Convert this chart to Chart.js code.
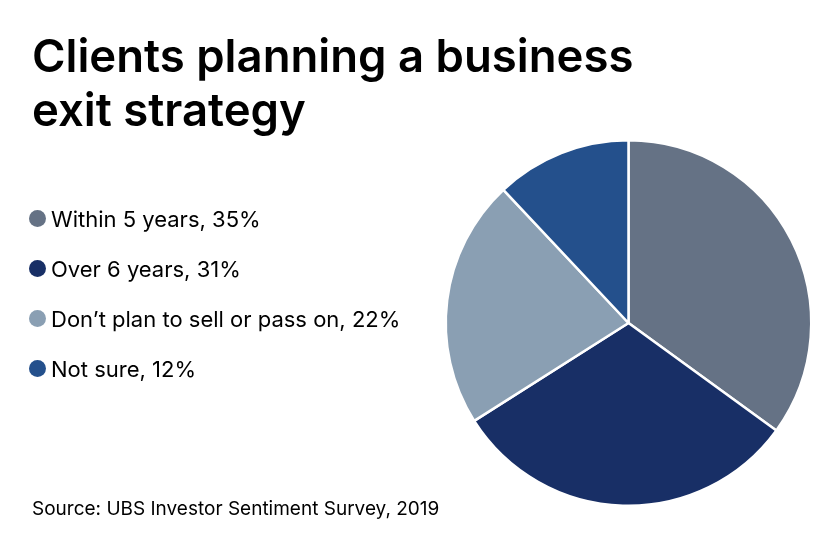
<!DOCTYPE html>
<html><head><meta charset="utf-8">
<script src="https://cdn.jsdelivr.net/npm/chart.js@4"></script>
<style>
html,body{margin:0;padding:0;background:#fff;overflow:hidden}
#wrap{position:relative;width:840px;height:547px;font-family:Inter,sans-serif;color:#000}
#wrap canvas{position:absolute;left:0;top:0}
.t{position:absolute;white-space:nowrap}
#title{left:32px;top:29px;font-size:45.5px;line-height:54px;font-weight:600;}
#source{left:32px;top:497px;font-size:19px;line-height:24px}
.row{position:absolute;left:29px;height:24px;font-size:22px;line-height:24px;white-space:nowrap}
.dot{position:absolute;left:0;top:3px;width:17px;height:17px;border-radius:50%}
.lab{position:absolute;left:22px;top:0}
</style></head><body>
<div id="wrap">
<canvas id="c" width="840" height="547"></canvas>
<div id="title" class="t">Clients planning a business<br>exit strategy</div>
<div id="legend"></div>
<div id="source" class="t">Source: UBS Investor Sentiment Survey, 2019</div>
</div>
<script>
const categories=["Within 5 years","Over 6 years","Don’t plan to sell or pass on","Not sure"];
const values=[35,31,22,12];
const colors=["#657285","#182f66","#8a9fb3","#24508c"];
const rowTops=[207,257,307,357];
const lg=document.getElementById('legend');
categories.forEach((c,i)=>{
  const r=document.createElement('div');r.className='row';r.style.top=rowTops[i]+'px';
  r.innerHTML='<span class="dot" style="background:'+colors[i]+'"></span><span class="lab"></span>';
  r.querySelector('.lab').textContent=c+', '+values[i]+'%';
  lg.appendChild(r);
});
new Chart(document.getElementById('c'),{
  type:'pie',
  data:{labels:categories,datasets:[{data:values,backgroundColor:colors,borderColor:'#ffffff',borderWidth:2.5}]},
  options:{responsive:false,animation:false,devicePixelRatio:1,
    layout:{padding:{left:444.5,top:138.5,right:27.5,bottom:39.5}},
    plugins:{legend:{display:false},tooltip:{enabled:false},title:{display:false}}}
});
</script>
</body></html>
